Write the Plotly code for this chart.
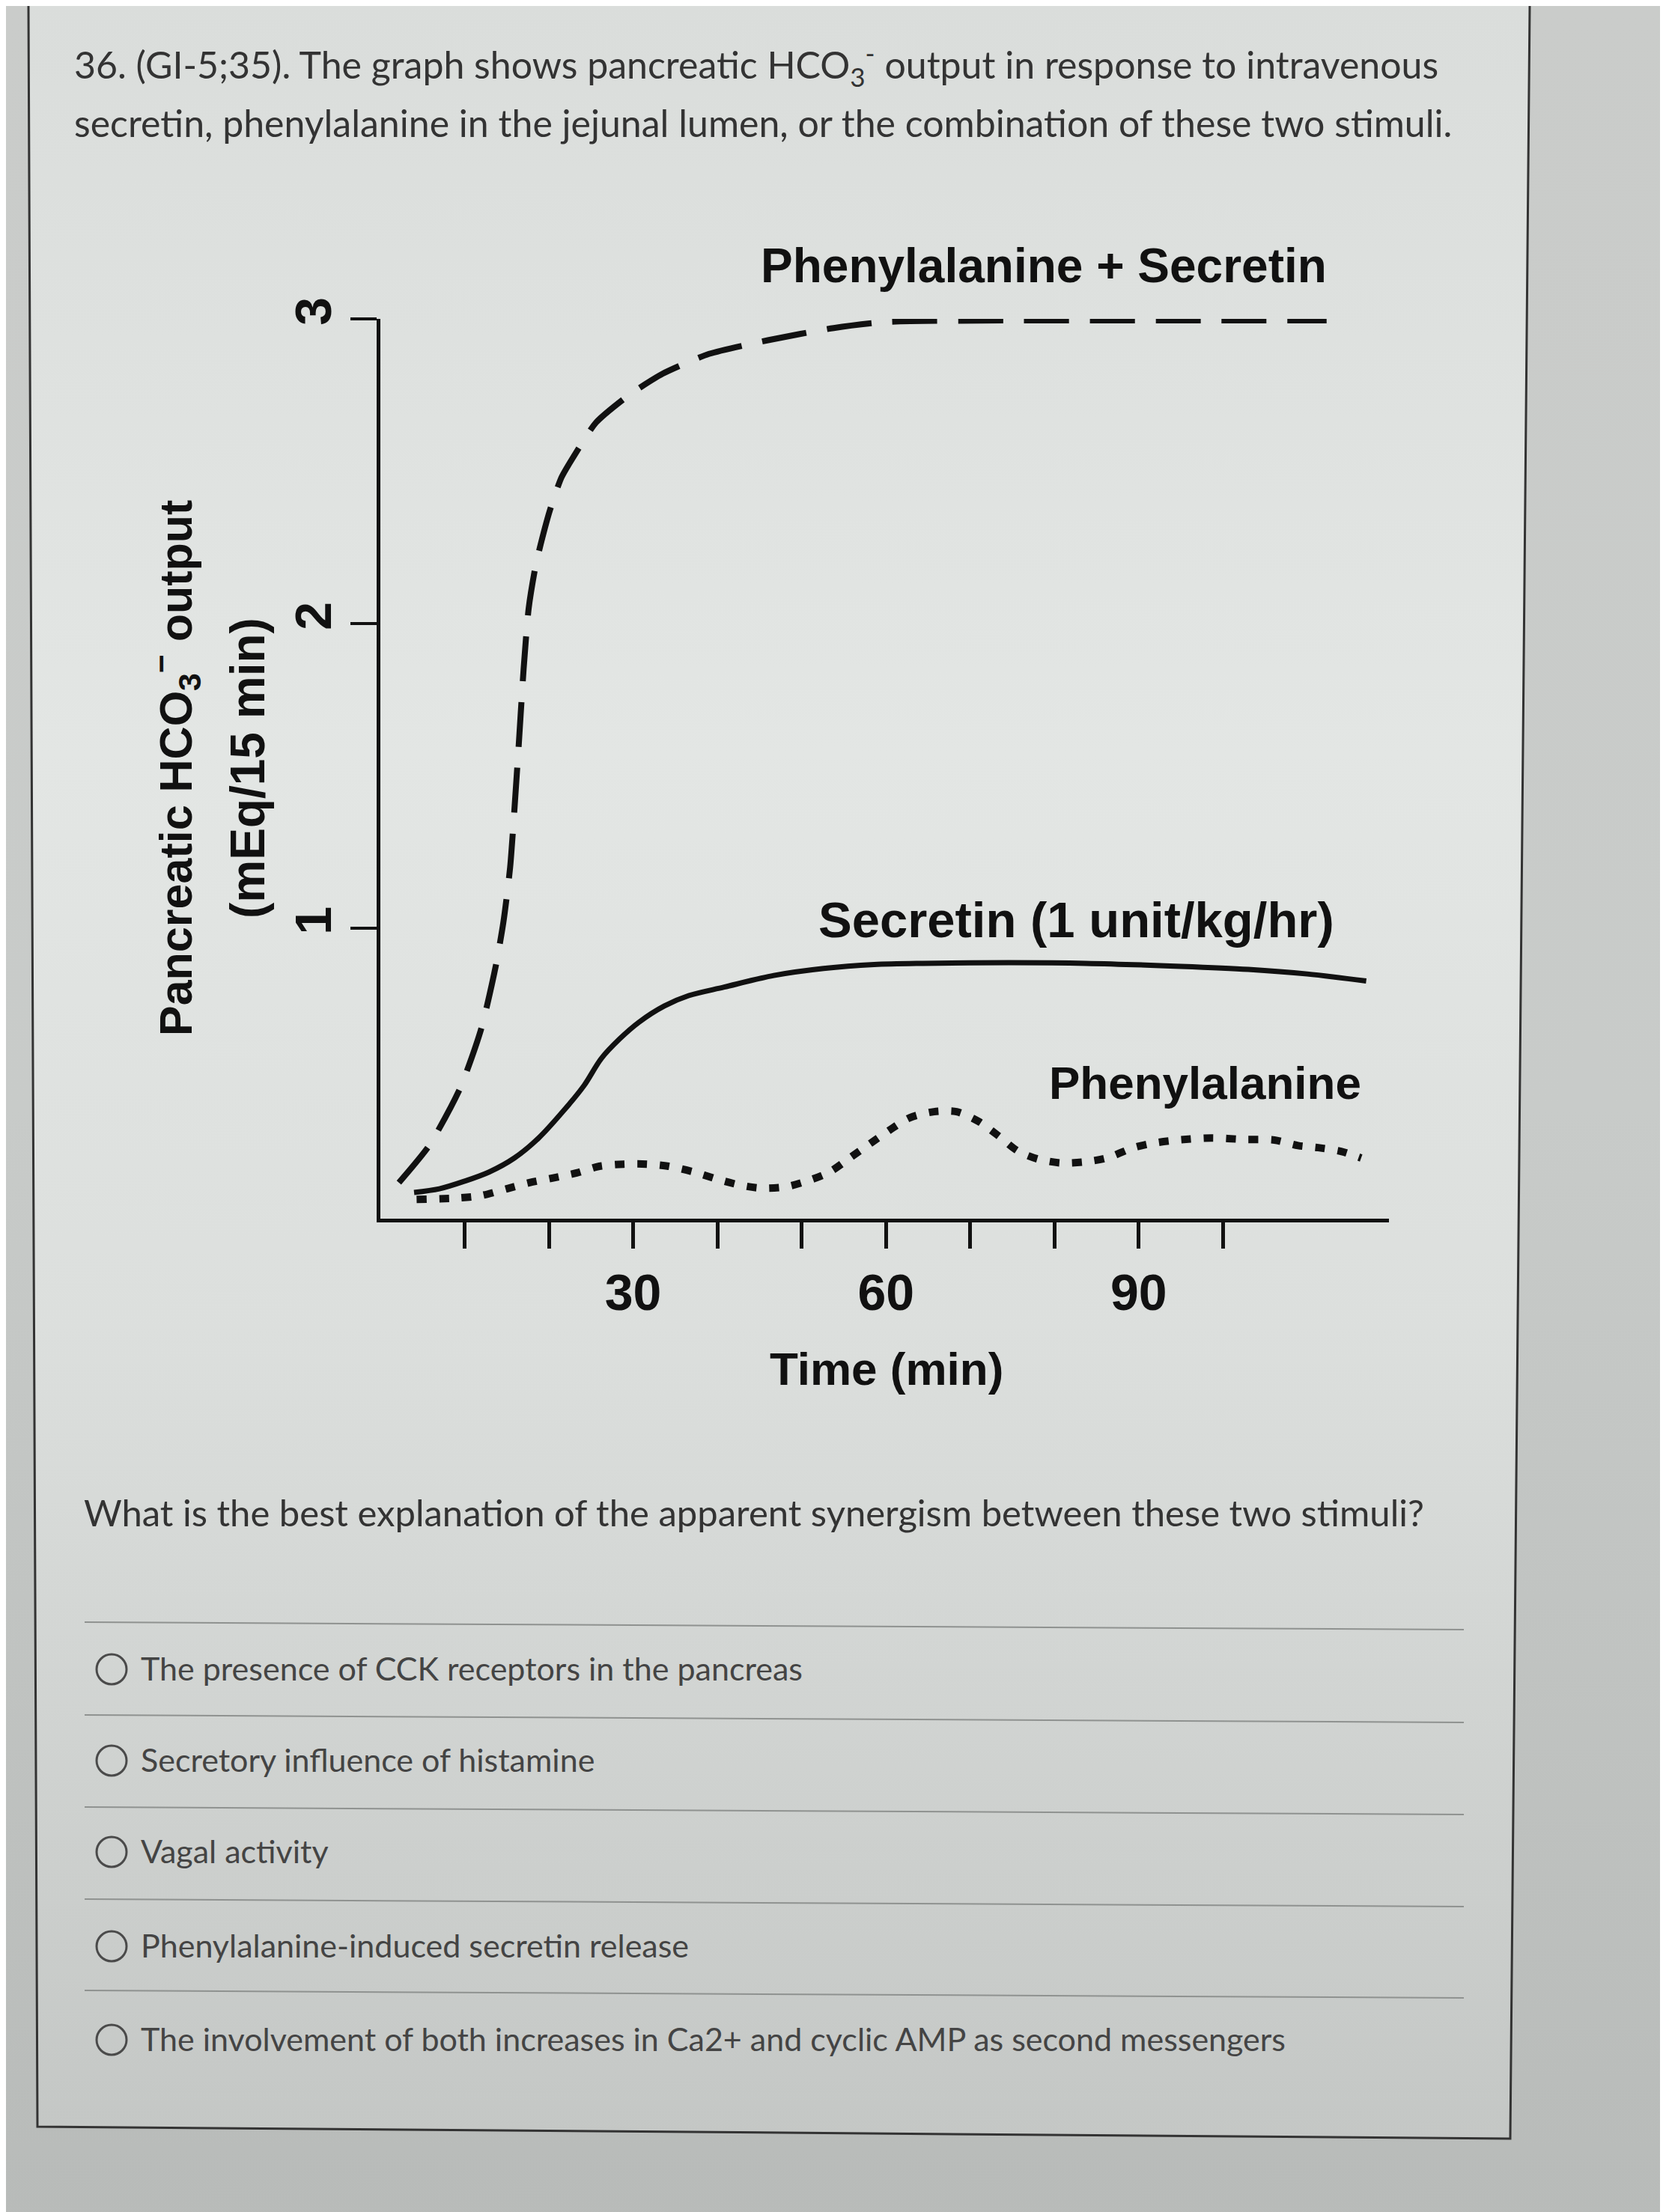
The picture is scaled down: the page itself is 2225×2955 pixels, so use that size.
import base64
import plotly.graph_objects as go

# ---------------- data ----------------
time_combo = [2.2, 5.8, 9.5, 12.0, 13.7, 14.6, 15.4, 16.3, 17.0, 17.6, 18.5, 20.1, 21.5,
              23.2, 25.6, 29.5, 33.5, 39.0, 46.0, 53.8, 60.0, 75.0, 95.0, 112.3]
hco3_combo = [0.165, 0.287, 0.477, 0.673, 0.877, 1.02, 1.2, 1.55, 1.85, 2.05, 2.2, 2.37, 2.48,
              2.56, 2.66, 2.75, 2.82, 2.885, 2.93, 2.97, 2.99, 2.995, 2.995, 2.995]

time_secretin = [4.0, 7.0, 10.0, 12.9, 15.9, 18.8, 21.8, 24.2, 26.2, 28.4, 30.7, 33.7, 36.6,
                 40.8, 46.7, 52.6, 58.6, 64.4, 74.6, 83.7, 95.0, 103.0, 110.0, 117.0]
hco3_secretin = [0.133, 0.145, 0.17, 0.2, 0.246, 0.312, 0.403, 0.485, 0.572, 0.637, 0.692, 0.745,
                 0.779, 0.807, 0.845, 0.868, 0.881, 0.885, 0.887, 0.885, 0.875, 0.865, 0.85, 0.827]

time_phe = [4.3, 9.3, 12.0, 15.0, 17.7, 20.4, 23.3, 26.0, 28.9, 31.6, 34.2, 37.2, 39.9, 42.7,
            45.3, 48.2, 50.8, 53.3, 55.9, 58.2, 60.4, 62.8, 65.7, 68.4, 71.0, 73.3, 75.6, 78.0,
            80.7, 83.5, 86.2, 89.4, 91.8, 94.6, 98.6, 102.5, 106.1, 108.9, 111.3, 114.0, 116.4]
hco3_phe = [0.11, 0.115, 0.123, 0.145, 0.165, 0.18, 0.197, 0.219, 0.226, 0.226, 0.219, 0.2,
            0.177, 0.157, 0.147, 0.152, 0.172, 0.2, 0.25, 0.295, 0.337, 0.378, 0.398, 0.398,
            0.366, 0.32, 0.27, 0.243, 0.23, 0.233, 0.246, 0.28, 0.295, 0.305, 0.312, 0.307,
            0.305, 0.287, 0.28, 0.268, 0.246]

x_labeled_ticks = [30, 60, 90]
x_minor_ticks = [10, 20, 40, 50, 70, 80, 100]
y_tickvals = [1, 2, 3]
y_ticktext = ["1", "2", "3"]

series_labels = ["Phenylalanine + Secretin", "Secretin (1 unit/kg/hr)", "Phenylalanine"]

question_lines = [
    "36. (GI-5;35). The graph shows pancreatic HCO<sub>3</sub><sup>-</sup> output in response to intravenous",
    "secretin, phenylalanine in the jejunal lumen, or the combination of these two stimuli.",
]
prompt = "What is the best explanation of the apparent synergism between these two stimuli?"
options = [
    "The presence of CCK receptors in the pancreas",
    "Secretory influence of histamine",
    "Vagal activity",
    "Phenylalanine-induced secretin release",
    "The involvement of both increases in Ca2+ and cyclic AMP as second messengers",
]

# ---------------- layout helpers ----------------
W, H = 2225, 2955
OFF = 8  # page body margin


def px(x):
    return (x - OFF) / W


def py(y):
    return 1 - (y - OFF) / H


CHART_FONT = "Liberation Sans, Arial, sans-serif"
TEXT_FONT = "Lato, Open Sans, sans-serif"
INK = "#111111"

fig = go.Figure()

fig.add_trace(go.Scatter(x=time_combo, y=hco3_combo, mode="lines", name=series_labels[0],
                         line=dict(color=INK, width=8, dash="60px,28px", shape="spline", smoothing=0.6)))
fig.add_trace(go.Scatter(x=time_secretin, y=hco3_secretin, mode="lines", name=series_labels[1],
                         line=dict(color=INK, width=7, shape="spline", smoothing=0.9)))
fig.add_trace(go.Scatter(x=time_phe, y=hco3_phe, mode="lines", name=series_labels[2],
                         line=dict(color=INK, width=10, dash="13px,17px", shape="spline", smoothing=0.8)))

# ---------------- background (photo-like page) ----------------
svg = f'''<svg xmlns="http://www.w3.org/2000/svg" width="{W}" height="{H}" viewBox="0 0 {W} {H}" preserveAspectRatio="none">
<defs>
<linearGradient id="o" x1="0" y1="0" x2="0" y2="1">
<stop offset="0" stop-color="#caccca"/><stop offset="0.5" stop-color="#c8cbc9"/><stop offset="1" stop-color="#b8bbb9"/>
</linearGradient>
<linearGradient id="p" x1="0" y1="0" x2="0" y2="1">
<stop offset="0" stop-color="#dadddb"/><stop offset="0.35" stop-color="#e3e6e4"/>
<stop offset="0.62" stop-color="#dcdfdd"/><stop offset="1" stop-color="#c4c7c5"/>
</linearGradient>
</defs>
<rect x="0" y="0" width="{W}" height="{H}" fill="url(#o)"/>
<polygon points="{38 - OFF},0 {2043 - OFF},0 {2017 - OFF},{2857 - OFF} {50 - OFF},{2841 - OFF}" fill="url(#p)"/>
</svg>'''
src = "data:image/svg+xml;base64," + base64.b64encode(svg.encode()).decode()

shapes = []
# panel border
shapes.append(dict(type="path", xref="paper", yref="paper",
                   path=f"M {px(38)},{py(OFF)} L {px(50)},{py(2841)} L {px(2017)},{py(2857)} L {px(2043)},{py(OFF)}",
                   line=dict(color="#333333", width=3), layer="below"))

# option separators and radio circles
sep_y = [2171, 2295, 2418, 2541, 2663]
opt_y = [2228, 2350, 2472, 2598, 2723]
for sy in sep_y:
    shapes.append(dict(type="line", xref="paper", yref="paper",
                       x0=px(113), y0=py(sy - 4), x1=px(1955), y1=py(sy + 6),
                       line=dict(color="#8f9290", width=2), layer="below"))
for oy in opt_y:
    r = 20
    shapes.append(dict(type="circle", xref="paper", yref="paper",
                       x0=px(149 - r), x1=px(149 + r), y0=py(oy + 2 + r), y1=py(oy + 2 - r),
                       line=dict(color="#4a4a4a", width=3)))

annotations = []
for text, yc in zip(question_lines, [86, 164]):
    annotations.append(dict(text=text, xref="paper", yref="paper", x=px(97), y=py(yc),
                            xanchor="left", yanchor="middle", showarrow=False,
                            font=dict(family=TEXT_FONT, size=50, color="#333333")))
annotations.append(dict(text=prompt, xref="paper", yref="paper", x=px(110), y=py(2020),
                        xanchor="left", yanchor="middle", showarrow=False,
                        font=dict(family=TEXT_FONT, size=49, color="#333333")))
for text, oy in zip(options, opt_y):
    annotations.append(dict(text=text, xref="paper", yref="paper", x=px(186), y=py(oy),
                            xanchor="left", yanchor="middle", showarrow=False,
                            font=dict(family=TEXT_FONT, size=43, color="#444444")))

# series labels
label_pos = [(1394, 355, 64), (1437, 1228, 67), (1609, 1447, 62)]
for text, (lx, ly, fs) in zip(series_labels, label_pos):
    annotations.append(dict(text=text, xref="paper", yref="paper", x=px(lx), y=py(ly),
                            xanchor="center", yanchor="middle", showarrow=False,
                            font=dict(family=CHART_FONT, size=fs, color=INK, weight="bold")))

# y-axis title (two rotated lines)
annotations.append(dict(text="Pancreatic HCO<sub>3</sub><sup>−</sup> output", xref="paper", yref="paper",
                        x=px(234), y=py(1026), xanchor="center", yanchor="middle", textangle=-90,
                        showarrow=False, font=dict(family=CHART_FONT, size=61, color=INK, weight="bold")))
annotations.append(dict(text="(mEq/15 min)", xref="paper", yref="paper",
                        x=px(331), y=py(1026), xanchor="center", yanchor="middle", textangle=-90,
                        showarrow=False, font=dict(family=CHART_FONT, size=64, color=INK, weight="bold")))
# x-axis title
annotations.append(dict(text="Time (min)", xref="paper", yref="paper", x=px(1184), y=py(1828),
                        xanchor="center", yanchor="middle", showarrow=False,
                        font=dict(family=CHART_FONT, size=62, color=INK, weight="bold")))

fig.update_layout(
    template="none",
    width=W, height=H,
    margin=dict(l=0, r=0, t=0, b=0, pad=0, autoexpand=False),
    paper_bgcolor="#c6c9c7",
    plot_bgcolor="rgba(0,0,0,0)",
    showlegend=False,
    images=[dict(source=src, xref="paper", yref="paper", x=0, y=1, sizex=1, sizey=1,
                 sizing="stretch", xanchor="left", yanchor="top", layer="below")],
    shapes=shapes,
    annotations=annotations,
    xaxis=dict(domain=[px(508), px(1855)], range=[0, 119.7], showgrid=False, zeroline=False,
               automargin=False,
               showline=True, linecolor=INK, linewidth=5,
               ticks="outside", ticklen=35, tickwidth=5, tickcolor=INK,
               tickvals=x_labeled_ticks, ticktext=[str(v) for v in x_labeled_ticks],
               ticklabelstandoff=0,
               minor=dict(tickvals=x_minor_ticks, ticks="outside", ticklen=35, tickwidth=5,
                          tickcolor=INK, showgrid=False),
               tickfont=dict(family=CHART_FONT, size=68, color=INK, weight="bold")),
    yaxis=dict(domain=[py(1628), py(426)], range=[0.047, 3.0], showgrid=False, zeroline=False,
               automargin=False,
               showline=True, linecolor=INK, linewidth=5,
               ticks="outside", ticklen=35, tickwidth=4, tickcolor=INK,
               tickvals=y_tickvals, ticktext=y_ticktext, tickangle=-90, ticklabelstandoff=-1,
               tickfont=dict(family=CHART_FONT, size=68, color=INK, weight="bold")),
)

fig.write_html("out.html")
